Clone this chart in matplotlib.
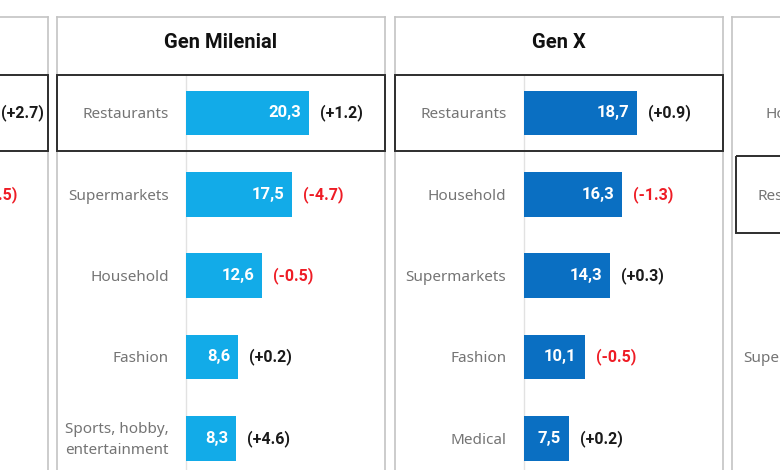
import matplotlib.pyplot as plt
from matplotlib.patches import Rectangle

plt.rcParams['font.family'] = ['Noto Sans', 'DejaVu Sans']
FONTE_NEGRITO = ['Roboto', 'DejaVu Sans']

# data (panels left to right; outer two are cut off in the original)
titulos = ['Gen Z', 'Gen Milenial', 'Gen X', 'Baby Boomers']

cat_genz = ['Restaurants', 'Fashion', 'Supermarkets', 'Household', 'Sports, hobby,\nentertainment']
val_genz = [23.3, 19.3, 12.1, 9.4, 8.8]
var_genz = ['(+2.7)', '(-1.5)', '(+0.4)', '(-0.3)', '(+1.1)']

cat_mil = ['Restaurants', 'Supermarkets', 'Household', 'Fashion', 'Sports, hobby,\nentertainment']
val_mil = [20.3, 17.5, 12.6, 8.6, 8.3]
var_mil = ['(+1.2)', '(-4.7)', '(-0.5)', '(+0.2)', '(+4.6)']

cat_x = ['Restaurants', 'Household', 'Supermarkets', 'Fashion', 'Medical']
val_x = [18.7, 16.3, 14.3, 10.1, 7.5]
var_x = ['(+0.9)', '(-1.3)', '(+0.3)', '(-0.5)', '(+0.2)']

cat_boom = ['Household', 'Restaurants', 'Medical', 'Supermarkets', 'Fashion']
val_boom = [17.9, 16.8, 13.2, 12.7, 8.1]
var_boom = ['(-0.8)', '(+1.4)', '(+0.6)', '(-2.1)', '(+0.1)']

destaque = [0, 0, 0, 1]  # row with the black box
cores = ['#5BC8F0', '#12ABE8', '#0A6FC2', '#1F3E78']

paineis = [(cat_genz, val_genz, var_genz), (cat_mil, val_mil, var_mil),
           (cat_x, val_x, var_x), (cat_boom, val_boom, var_boom)]

W, H = 780, 470
fig = plt.figure(figsize=(7.8, 4.7), dpi=100)

px_unit = 6.07    # pixels per value unit
row_px = 81.3     # pixels per row
zero_px = 129     # zero line offset from panel left
panel_w = 328
top_px, bot_px = 17, 500
row0_px = 113

for k, (titulo, (cats, vals, vars_), hl, cor) in enumerate(zip(titulos, paineis, destaque, cores)):
    left = 57 + (k - 1) * 337.5
    ax = fig.add_axes([left / W, 1 - bot_px / H, panel_w / W, (bot_px - top_px) / H])
    ax.set_xlim(-zero_px / px_unit, (panel_w - zero_px) / px_unit)
    ax.set_ylim((bot_px - row0_px) / row_px, (top_px - row0_px) / row_px)
    ax.set_xticks([])
    ax.set_yticks([])
    for s in ax.spines.values():
        s.set_color('#c4c4c4')
        s.set_linewidth(1.2)

    y = list(range(len(cats)))
    ax.plot([0, 0], [-0.47, 5], color='#e2e2e2', lw=1, zorder=1)
    ax.barh(y, vals, height=0.55, color=cor, zorder=2)

    for i in y:
        ax.annotate(cats[i], xy=(0, i), xytext=(-17, -2), textcoords='offset pixels',
                    ha='right', va='center', fontsize=11, color='#747474',
                    linespacing=1.55)
        ax.annotate(f'{vals[i]:.1f}'.replace('.', ','), xy=(vals[i], i), xytext=(-8, 0),
                    textcoords='offset pixels', ha='right', va='center',
                    fontsize=12, color='white', fontweight='bold', family=FONTE_NEGRITO)
        cor_var = '#EE1C25' if vars_[i].startswith('(-') else '#1a1a1a'
        ax.annotate(vars_[i], xy=(vals[i], i), xytext=(11, 0),
                    textcoords='offset pixels', ha='left', va='center',
                    fontsize=11.5, color=cor_var, fontweight='bold', family=FONTE_NEGRITO)

    tr = ax.get_yaxis_transform()
    ax.text(0.5, (43 - row0_px) / row_px, titulo, transform=tr, ha='center',
            va='center', fontsize=14.5, fontweight='bold', color='#111111',
            family=FONTE_NEGRITO)
    ins = 4 / panel_w if hl == 1 else 0  # last panel box sits slightly inside
    ax.add_patch(Rectangle((ins, hl - 0.47), 1 - ins, 0.94, transform=tr, fill=False,
                           edgecolor='#2e2e2e', lw=1.4, zorder=3, clip_on=False))

fig.savefig('out.png', dpi=100)
